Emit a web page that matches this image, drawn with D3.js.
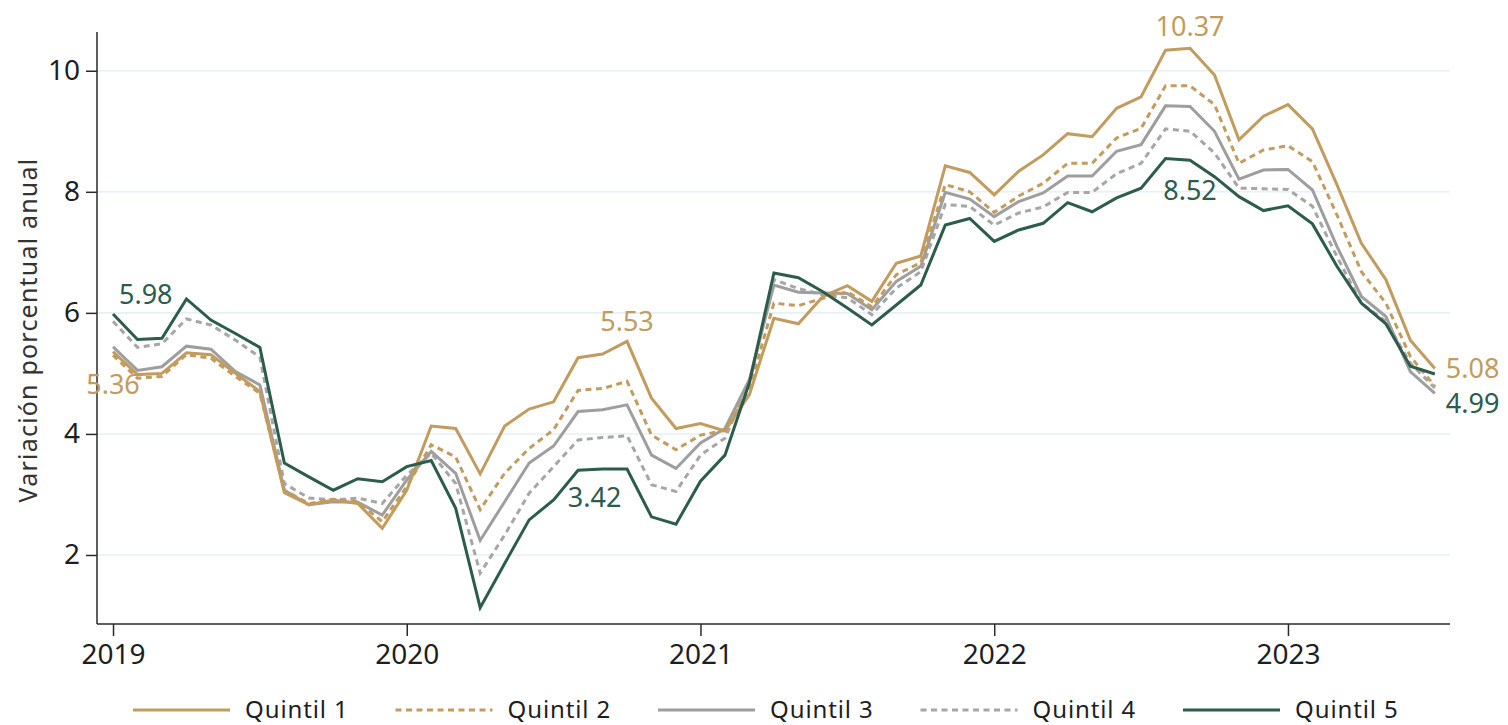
<!DOCTYPE html>
<html>
<head>
<meta charset="utf-8">
<script src="https://cdn.jsdelivr.net/npm/d3@7"></script>
<style>
  html, body { margin: 0; padding: 0; background: #ffffff; }
  svg { display: block; }
  text { font-family: "Noto Sans", "Open Sans", sans-serif; }
</style>
</head>
<body>
<svg id="chart" width="1508" height="725"></svg>
<script>
// Monthly annual inflation by income quintile, Jan 2019 – Jul 2023
const startYear = 2019;
const yearTicks = [2019, 2020, 2021, 2022, 2023];
const yTicks = [2, 4, 6, 8, 10];

const quintil1 = [
  5.36, 4.98, 5.00, 5.34, 5.31, 5.00, 4.70, 3.03, 2.83, 2.91, 2.85, 2.44,
  3.07, 4.13, 4.09, 3.34, 4.13, 4.41, 4.53, 5.26, 5.32, 5.53, 4.59, 4.09,
  4.17, 4.05, 4.65, 5.91, 5.82, 6.27, 6.45, 6.19, 6.82, 6.94, 8.43, 8.32,
  7.95, 8.34, 8.61, 8.96, 8.91, 9.38, 9.57, 10.34, 10.37, 9.93, 8.86, 9.25,
  9.44, 9.04, 8.12, 7.15, 6.55, 5.55, 5.08
];
const quintil2 = [
  5.30, 4.92, 4.95, 5.31, 5.25, 4.95, 4.67, 3.07, 2.85, 2.92, 2.88, 2.55,
  3.13, 3.82, 3.62, 2.75, 3.35, 3.76, 4.07, 4.72, 4.75, 4.87, 3.98, 3.74,
  3.98, 4.06, 4.75, 6.16, 6.12, 6.24, 6.35, 6.10, 6.63, 6.83, 8.12, 8.00,
  7.66, 7.93, 8.14, 8.47, 8.47, 8.89, 9.05, 9.75, 9.75, 9.44, 8.47, 8.69,
  8.76, 8.50, 7.62, 6.68, 6.16, 5.28, 4.79
];
const quintil3 = [
  5.44, 5.05, 5.11, 5.45, 5.40, 5.03, 4.81, 3.07, 2.83, 2.88, 2.87, 2.66,
  3.24, 3.71, 3.35, 2.24, 2.88, 3.52, 3.80, 4.37, 4.40, 4.48, 3.65, 3.43,
  3.85, 4.09, 4.90, 6.46, 6.34, 6.33, 6.32, 6.05, 6.52, 6.77, 7.99, 7.88,
  7.59, 7.84, 7.98, 8.26, 8.26, 8.67, 8.78, 9.42, 9.41, 9.00, 8.21, 8.36,
  8.37, 8.03, 7.10, 6.27, 5.94, 5.03, 4.67
];
const quintil4 = [
  5.86, 5.43, 5.49, 5.90, 5.80, 5.55, 5.27, 3.18, 2.94, 2.91, 2.94, 2.85,
  3.32, 3.68, 3.18, 1.70, 2.33, 3.02, 3.46, 3.90, 3.94, 3.97, 3.16, 3.05,
  3.65, 3.93, 4.85, 6.55, 6.40, 6.30, 6.25, 5.97, 6.41, 6.68, 7.79, 7.76,
  7.45, 7.65, 7.75, 7.99, 7.99, 8.30, 8.47, 9.04, 9.00, 8.64, 8.06, 8.05,
  8.04, 7.76, 6.93, 6.16, 5.86, 5.17, 4.76
];
const quintil5 = [
  5.98, 5.56, 5.58, 6.23, 5.88, 5.66, 5.43, 3.52, 3.29, 3.07, 3.26, 3.21,
  3.46, 3.56, 2.77, 1.13, 1.86, 2.58, 2.91, 3.40, 3.42, 3.42, 2.63, 2.51,
  3.22, 3.65, 4.85, 6.66, 6.58, 6.35, 6.08, 5.80, 6.13, 6.46, 7.45, 7.56,
  7.18, 7.37, 7.48, 7.82, 7.67, 7.90, 8.06, 8.55, 8.52, 8.25, 7.92, 7.69,
  7.77, 7.47, 6.77, 6.16, 5.82, 5.12, 4.99
];

const seriesNames = ["Quintil 1", "Quintil 2", "Quintil 3", "Quintil 4", "Quintil 5"];
const seriesValues = [quintil1, quintil2, quintil3, quintil4, quintil5];

const GOLD = "#c29b5e", GREY = "#9e9e9e", GREY_D = "#a6a6a6", GREEN = "#2b5c4c";
const styles = [
  { color: GOLD,   dash: null },
  { color: GOLD,   dash: "6,4.5" },
  { color: GREY,   dash: null },
  { color: GREY_D, dash: "6,4.5" },
  { color: GREEN,  dash: null }
];

// Point annotations: series index, month index
const annotations = [
  { s: 4, i: 0,  anchor: "start",  dx: 6,   dy: -10 },
  { s: 0, i: 0,  anchor: "middle", dx: 0,   dy: 42 },
  { s: 0, i: 21, anchor: "middle", dx: 0,   dy: -10 },
  { s: 4, i: 20, anchor: "middle", dx: -8,  dy: 38 },
  { s: 0, i: 44, anchor: "middle", dx: 0,   dy: -12 },
  { s: 4, i: 44, anchor: "middle", dx: 0,   dy: 40 },
  { s: 0, i: 54, anchor: "start",  dx: 11,  dy: 9 },
  { s: 4, i: 54, anchor: "start",  dx: 11,  dy: 39 }
];

const svg = d3.select("#chart");
const plotLeft = 97, plotRight = 1450, plotTop = 32, plotBottom = 624;

const x = d3.scaleLinear().domain([-0.654, 54.62]).range([plotLeft, plotRight]);
const y = d3.scaleLinear().domain([0.86, 10.64]).range([plotBottom, plotTop]);
const monthIndex = yr => (yr - startYear) * 12;

// Horizontal grid
svg.append("g")
  .selectAll("line")
  .data(yTicks)
  .join("line")
  .attr("x1", plotLeft).attr("x2", plotRight)
  .attr("y1", d => y(d)).attr("y2", d => y(d))
  .attr("stroke", "#e7f0f3").attr("stroke-width", 1.6);

// Y axis
const yAxis = svg.append("g")
  .attr("transform", `translate(${plotLeft},0)`)
  .call(d3.axisLeft(y).tickValues(yTicks).tickSize(11).tickPadding(6).tickFormat(d3.format("d")));
yAxis.select(".domain").attr("stroke", "#2a2a2a").attr("stroke-width", 1.5).attr("d", `M0,${plotTop}V${plotBottom}`);
yAxis.selectAll(".tick line").attr("stroke", "#2a2a2a").attr("stroke-width", 1.5);
yAxis.selectAll(".tick text").attr("font-size", 28).attr("fill", "#1e1e1e")
  .style("font-family", "'Noto Sans', sans-serif");

// X axis
const xAxis = svg.append("g")
  .attr("transform", `translate(0,${plotBottom})`)
  .call(d3.axisBottom(x).tickValues(yearTicks.map(monthIndex)).tickSize(12).tickPadding(8)
    .tickFormat(d => String(startYear + d / 12)));
xAxis.select(".domain").attr("stroke", "#2a2a2a").attr("stroke-width", 1.5).attr("d", `M${plotLeft},0H${plotRight}`);
xAxis.selectAll(".tick line").attr("stroke", "#2a2a2a").attr("stroke-width", 1.5);
xAxis.selectAll(".tick text").attr("font-size", 28).attr("fill", "#1e1e1e")
  .style("font-family", "'Noto Sans', sans-serif");

// Y axis title
svg.append("text")
  .attr("transform", `translate(37,${(plotTop + plotBottom) / 2 + 2}) rotate(-90)`)
  .attr("text-anchor", "middle")
  .attr("font-size", 25)
  .attr("letter-spacing", 1.2)
  .attr("fill", "#333")
  .text("Variación porcentual anual");

// Lines
const line = d3.line().x((d, i) => x(i)).y(d => y(d));
const plot = svg.append("g");
[3, 2, 1, 0, 4].forEach(k => {
  plot.append("path")
    .datum(seriesValues[k])
    .attr("d", line)
    .attr("fill", "none")
    .attr("stroke", styles[k].color)
    .attr("stroke-width", 3)
    .attr("stroke-linejoin", "miter")
    .attr("stroke-dasharray", styles[k].dash);
});

// Value labels
svg.append("g")
  .selectAll("text")
  .data(annotations)
  .join("text")
  .attr("x", a => x(a.i) + a.dx)
  .attr("y", a => y(seriesValues[a.s][a.i]) + a.dy)
  .attr("text-anchor", a => a.anchor)
  .attr("font-size", 27)
  .attr("fill", a => styles[a.s].color)
  .text(a => seriesValues[a.s][a.i].toFixed(2));

// Legend
const legend = svg.append("g").attr("transform", "translate(133,710)");
seriesNames.forEach((name, k) => {
  const g = legend.append("g").attr("transform", `translate(${k * 262.5},0)`);
  g.append("line")
    .attr("x1", 0).attr("x2", 97).attr("y1", 0).attr("y2", 0)
    .attr("stroke", styles[k].color).attr("stroke-width", 3)
    .attr("stroke-dasharray", styles[k].dash);
  g.append("text")
    .attr("x", 112).attr("y", 8)
    .attr("font-size", 24)
    .attr("letter-spacing", 0.9)
    .attr("fill", "#1e1e1e")
    .text(name);
});
</script>
</body>
</html>
